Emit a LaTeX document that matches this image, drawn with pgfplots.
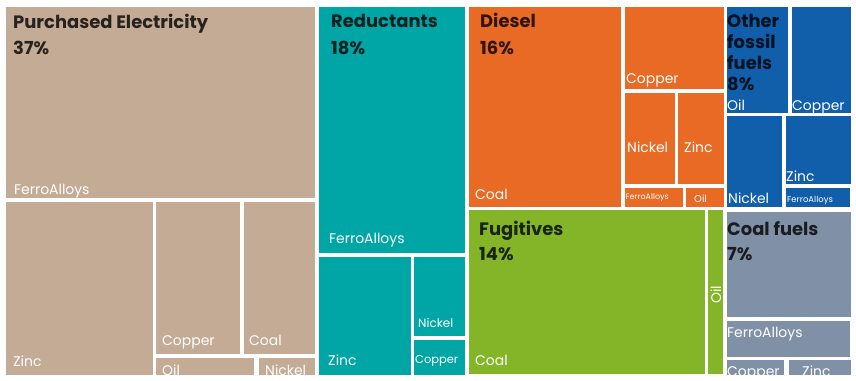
\documentclass[border=0pt]{standalone}
\usepackage{fontspec}
\setmainfont{Poppins}
\usepackage{pgfplots}
\pgfplotsset{compat=1.18}
\definecolor{cPE}{RGB}{196,171,150}
\definecolor{cRE}{RGB}{0,166,166}
\definecolor{cDI}{RGB}{232,106,36}
\definecolor{cFU}{RGB}{132,181,41}
\definecolor{cOF}{RGB}{17,94,170}
\definecolor{cCF}{RGB}{128,144,166}
\newcommand{\rect}[5]{\addplot[fill=#1,draw=none,forget plot] coordinates {(#2,#3) (#4,#3) (#4,#5) (#2,#5)};}
\newcommand{\lab}[4][14]{\node[anchor=base west,text=white,inner sep=0pt,font=\fontsize{#1}{#1}\selectfont] at (axis cs:#2,#3) {#4};}
\newcommand{\tl}[3]{\node[anchor=base west,text=black,text opacity=0.8,inner sep=0pt,font=\fontsize{18}{20}\selectfont\bfseries] at (axis cs:#1,#2) {#3};}
\begin{document}
\begin{tikzpicture}
\begin{axis}[width=856bp,height=381bp,scale only axis,xmin=0,xmax=856,ymin=0,ymax=381,y dir=reverse,hide axis,clip=false]
\addplot[draw=none,forget plot] coordinates {(0,0) (856,381)};
% Purchased Electricity
\rect{cPE}{6}{7}{315}{198}
\rect{cPE}{6}{202}{153}{375}
\rect{cPE}{156}{202}{240}{354}
\rect{cPE}{244}{202}{315}{354}
\rect{cPE}{156}{358}{254}{375}
\rect{cPE}{259}{358}{315}{375}
% Reductants
\rect{cRE}{319}{7}{465}{253}
\rect{cRE}{319}{257}{411}{375}
\rect{cRE}{414}{257}{465}{336}
\rect{cRE}{414}{340}{465}{375}
% Diesel
\rect{cDI}{469}{7}{621}{207}
\rect{cDI}{625}{7}{724}{89}
\rect{cDI}{625}{93}{675}{184}
\rect{cDI}{678}{93}{724}{184}
\rect{cDI}{625}{188}{683}{207}
\rect{cDI}{686}{188}{724}{207}
% Fugitives
\rect{cFU}{469}{210}{705}{374}
\rect{cFU}{708}{210}{723}{374}
% Other fossil fuels
\rect{cOF}{727}{7}{788}{113}
\rect{cOF}{792}{7}{851}{113}
\rect{cOF}{727}{116}{782}{207}
\rect{cOF}{786}{116}{851}{184}
\rect{cOF}{786}{188}{850}{207}
% Coal fuels
\rect{cCF}{727}{212}{851}{317}
\rect{cCF}{727}{321}{850}{357}
\rect{cCF}{727}{360}{784}{375}
\rect{cCF}{789}{360}{851}{375}
% titles
\tl{13}{29}{Purchased Electricity}
\tl{13}{54}{37\%}
\tl{331}{28}{Reductants}
\tl{331}{54}{18\%}
\tl{480}{28}{Diesel}
\tl{480}{54}{16\%}
\tl{479}{235}{Fugitives}
\tl{479}{260}{14\%}
\tl{727}{235}{Coal fuels}
\tl{727}{260}{7\%}
\tl{727}{28}{Other}
\tl{727}{48.5}{fossil}
\tl{727}{69.5}{fuels}
\tl{727}{90}{8\%}
% labels
\lab{14}{194}{FerroAlloys}
\lab{13}{366}{Zinc}
\lab{162}{345}{Copper}
\lab{249}{345}{Coal}
\lab{162}{375}{Oil}
\lab{265}{375}{Nickel}
\lab{329}{243}{FerroAlloys}
\lab{328}{365}{Zinc}
\lab[12]{418}{327}{Nickel}
\lab[11.5]{415}{363}{Copper}
\lab{475}{199}{Coal}
\lab{626}{83}{Copper}
\lab{627}{152}{Nickel}
\lab{684}{152}{Zinc}
\lab[8]{625.5}{199}{FerroAlloys}
\lab[10]{694}{202}{Oil}
\lab{475}{365}{Coal}
\node[anchor=base west,rotate=90,text=white,inner sep=0pt,font=\fontsize{14}{14}\selectfont] at (axis cs:721,304) {Oil};
\lab{727}{110}{Oil}
\lab{792}{110}{Copper}
\lab{728}{203}{Nickel}
\lab{786}{181}{Zinc}
\lab[8.5]{787}{202}{FerroAlloys}
\lab{727}{337}{FerroAlloys}
\lab{727}{376}{Copper}
\lab{802}{376}{Zinc}
\end{axis}
\end{tikzpicture}
\end{document}
